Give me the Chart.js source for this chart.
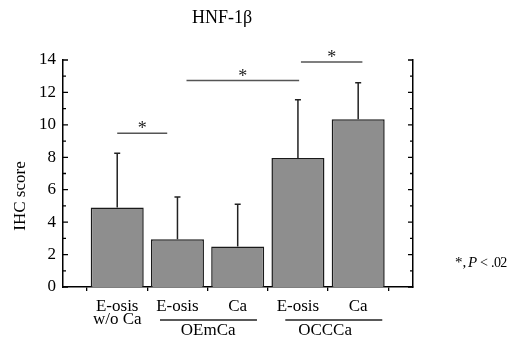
<!DOCTYPE html>
<html lang="en">
<head>
    <meta charset="UTF-8">
    <title>HNF-1β</title>
    <script src="https://cdn.jsdelivr.net/npm/chart.js"></script>
    <style>
        body { margin: 0; background: #fff; }
        #grafico { display: block; }
    </style>
</head>
<body>
    <canvas id="grafico" width="507" height="345"></canvas>

<script>
    // valores
    const xLines = [['E-osis', 'w/o Ca'], ['E-osis'], ['Ca'], ['E-osis'], ['Ca']];
    const scores = [4.9, 2.95, 2.5, 7.95, 10.35];
    const sdUpper = [3.35, 2.6, 2.6, 3.6, 2.25];
    const yTicks = [0, 2, 4, 6, 8, 10, 12, 14];

    // grupos embaixo do eixo (em unidades de categoria)
    const groupNames = ['OEmCa', 'OCCCa'];
    const groupFrom = [0.71, 2.79];
    const groupTo = [2.32, 4.4];
    const groupLabelAt = [1.51, 3.45];

    // barras de significancia
    const bracketFrom = [0, 1.15, 3.05];
    const bracketTo = [0.83, 3.02, 4.07];
    const bracketY = [9.48, 12.73, 13.88];

    const serif = '"Liberation Serif", "Times New Roman", serif';

    const extras = {
        id: 'extras',
        afterDatasetsDraw(chart) {
            const c = chart.ctx;
            const x = chart.scales.x;
            const y = chart.scales.y;
            const area = chart.chartArea;

            c.save();
            // barras de erro (so para cima)
            c.strokeStyle = '#222';
            c.lineWidth = 1.5;
            scores.forEach((v, i) => {
                const px = x.getPixelForValue(i);
                const top = y.getPixelForValue(v + sdUpper[i]);
                c.beginPath();
                c.moveTo(px, y.getPixelForValue(v));
                c.lineTo(px, top);
                c.moveTo(px - 3, top);
                c.lineTo(px + 3, top);
                c.stroke();
            });

            // ticks para dentro nos eixos y
            c.strokeStyle = '#000';
            c.lineWidth = 1.3;
            for (let v = 0; v <= 14; v++) {
                const py = y.getPixelForValue(v);
                const len = v % 2 === 0 ? 5 : 3;
                c.beginPath();
                c.moveTo(area.left, py);
                c.lineTo(area.left + len, py);
                c.moveTo(area.right, py);
                c.lineTo(area.right - len, py);
                c.stroke();
            }

            // significancia
            c.strokeStyle = '#555';
            c.lineWidth = 1.5;
            c.fillStyle = '#222';
            c.font = '18px ' + serif;
            c.textAlign = 'center';
            c.textBaseline = 'alphabetic';
            bracketY.forEach((v, i) => {
                const x1 = x.getPixelForValue(bracketFrom[i]);
                const x2 = x.getPixelForValue(bracketTo[i]);
                const py = y.getPixelForValue(v);
                c.beginPath();
                c.moveTo(x1, py);
                c.lineTo(x2, py);
                c.stroke();
                c.fillText('*', (x1 + x2) / 2, py + 1);
            });

            // grupos
            c.strokeStyle = '#222';
            c.lineWidth = 1.3;
            c.fillStyle = '#000';
            c.font = '17px ' + serif;
            groupNames.forEach((g, i) => {
                c.beginPath();
                c.moveTo(x.getPixelForValue(groupFrom[i]), area.bottom + 33);
                c.lineTo(x.getPixelForValue(groupTo[i]), area.bottom + 33);
                c.stroke();
                c.fillText(g, x.getPixelForValue(groupLabelAt[i]), area.bottom + 48);
            });

            // titulo do eixo y
            c.save();
            c.translate(25, 196);
            c.rotate(-Math.PI / 2);
            c.fillText('IHC score', 0, 0);
            c.restore();

            // titulo
            c.font = '18px ' + serif;
            c.fillText('HNF-1β', 222, 23);

            // nota p
            c.textAlign = 'left';
            const ty = 267;
            c.font = '15px ' + serif;
            c.fillText('*,', 455, ty);
            c.font = 'italic 15px ' + serif;
            c.fillText('P', 468, ty);
            c.font = '14px ' + serif;
            c.fillText('<', 480, ty);
            c.letterSpacing = '-0.6px';
            c.fillText('.02', 491, ty);
            c.letterSpacing = '0px';

            c.restore();
        }
    };

    const ctx = document.getElementById('grafico').getContext('2d');

    const grafico = new Chart(ctx, {
        type: 'bar',
        data: {
            datasets: [{
                data: scores.map((v, i) => ({ x: i, y: v })),
                backgroundColor: '#8e8e8e',
                borderColor: '#1a1a1a',
                borderWidth: 1.5,
                categoryPercentage: 1,
                barPercentage: 0.88
            }]
        },
        options: {
            responsive: false,
            animation: false,
            layout: { padding: { top: 60, left: 0, right: 0, bottom: 0 } },
            plugins: {
                legend: { display: false },
                tooltip: { enabled: false }
            },
            scales: {
                x: {
                    type: 'linear',
                    offset: false,
                    min: -0.9,
                    max: 4.91,
                    afterBuildTicks: (scale) => {
                        scale.ticks = xLines.map((l, i) => ({ value: i }));
                    },
                    afterFit: (scale) => { scale.height = 58; },
                    grid: {
                        display: true,
                        drawOnChartArea: false,
                        drawTicks: true,
                        tickLength: 4,
                        color: '#000',
                        lineWidth: 1.3
                    },
                    border: { display: true, color: '#000', width: 1.5 },
                    ticks: {
                        padding: 9,
                        color: '#000',
                        maxRotation: 0,
                        autoSkip: false,
                        font: { family: serif, size: 17, lineHeight: 0.78 },
                        callback: (v) => xLines[v]
                    }
                },
                y: {
                    min: 0,
                    max: 14,
                    afterBuildTicks: (scale) => {
                        scale.ticks = yTicks.map(v => ({ value: v }));
                    },
                    afterFit: (scale) => { scale.width = 63; },
                    grid: { display: false, drawTicks: false },
                    border: { display: true, color: '#000', width: 1.5 },
                    ticks: {
                        padding: 7,
                        color: '#000',
                        font: { family: serif, size: 17 }
                    }
                },
                y2: {
                    position: 'right',
                    min: 0,
                    max: 14,
                    afterFit: (scale) => { scale.width = 94; },
                    grid: { display: false, drawTicks: false },
                    border: { display: true, color: '#000', width: 1.5 },
                    ticks: { display: false }
                }
            }
        },
        plugins: [extras]
    });
</script>
</body>
</html>
